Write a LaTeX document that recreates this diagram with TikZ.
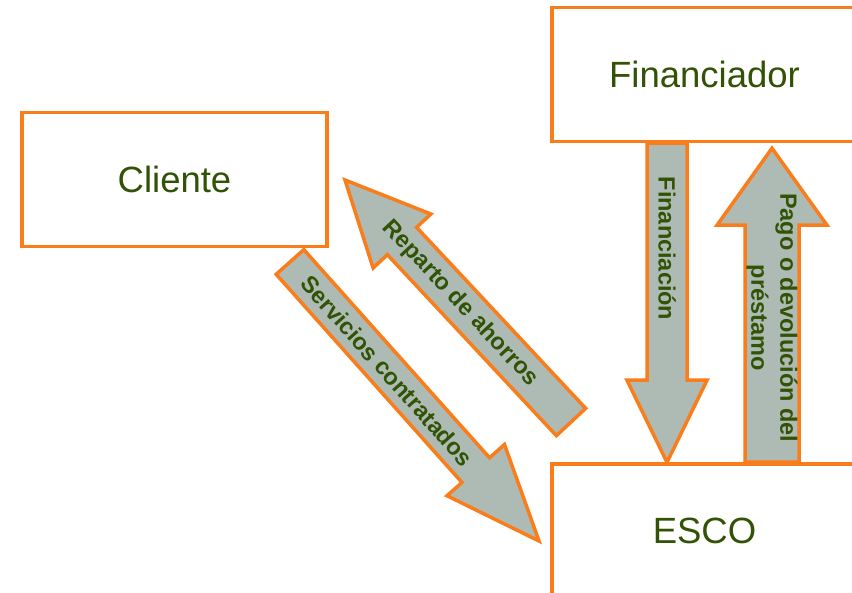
\documentclass[tikz,border=0pt]{standalone}
\usepackage{fontspec}
\setmainfont{Liberation Sans}
\usetikzlibrary{calc,positioning}
\definecolor{naranja}{RGB}{250,125,28}
\definecolor{gris}{RGB}{174,187,181}
\definecolor{verde}{RGB}{50,82,5}
\tikzstyle{caja}=[rectangle,draw=naranja,line width=3.5pt,fill=white,minimum width=305pt,minimum height=134pt,inner sep=0pt,text=verde,font=\fontsize{36.5}{40}\selectfont]
\tikzstyle{bloque}=[draw=naranja,fill=gris,line width=3.5pt,line join=miter]
\tikzstyle{rotulo}=[text=verde,font=\fontsize{23.5}{29}\selectfont\bfseries,align=center,inner sep=0pt]

% block arrow: start, tip, half shaft, half head, head length
\newcommand{\flecha}[5]{%
  \coordinate (base) at ($(#2)!#5!(#1)$);
  \draw[bloque] ($(#1)!#3!90:(#2)$) -- ($(base)!#3!90:(#2)$) -- ($(base)!#4!90:(#2)$) -- (#2)
     -- ($(base)!#4!-90:(#2)$) -- ($(base)!#3!-90:(#2)$) -- ($(#1)!#3!-90:(#2)$) -- cycle;
}

\begin{document}
\begin{tikzpicture}[x=1pt,y=-1pt]

    \useasboundingbox (0,0) rectangle (852,593);
    \clip (0,0) rectangle (852,593);

    \node[caja] (cliente) at (174.5,179.5) {Cliente};
    \node[caja] (fin) at (704.5,74.5) {Financiador};
    \node[caja, below=319pt of fin] (esco) {ESCO};

    % ends of the block arrows
    \coordinate (f1) at ($(fin.south)+(-37.5,0)$);
    \coordinate (f2) at (f1 |- esco.north);
    \coordinate (p1) at ($(esco.north)+(67.5,0)$);
    \coordinate (p2) at ($(p1 |- fin.south)+(0,5)$);
    \coordinate (s1) at (290,262);
    \coordinate (s2) at (539,541);
    \coordinate (r1) at (571,422);
    \coordinate (r2) at (345,180);

    \flecha{f1}{f2}{20pt}{40pt}{82pt}
    \flecha{p1}{p2}{27pt}{55pt}{77pt}
    \flecha{s1}{s2}{18.5pt}{38.5pt}{95pt}
    \flecha{r1}{r2}{20pt}{39.5pt}{83.5pt}

    \node[rotulo, rotate=-90] (tfin) at ($(f1)!.33!(f2)$) {Financiación};
    \node[rotulo, rotate=-90] (tpago) at ($(p1)!.46!(p2)$) {Pago o devolución del\\préstamo};
    \node[rotulo, rotate=-48.25] (tserv) at ($(s1)!.39!(s2)$) {Servicios contratados};
    \node[rotulo, rotate=-46.96] (trep) at ($(r1)!.49!(r2)$) {Reparto de ahorros};

\end{tikzpicture}
\end{document}
